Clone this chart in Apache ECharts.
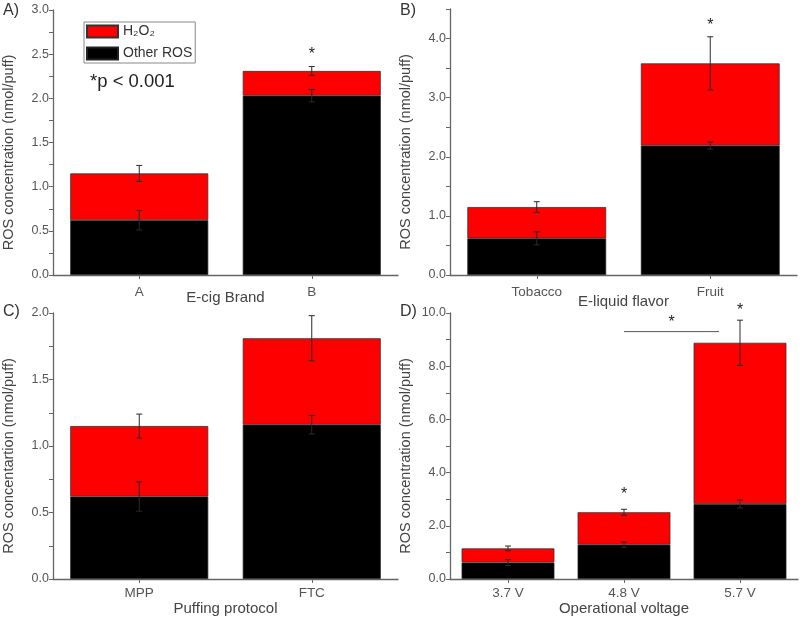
<!DOCTYPE html>
<html>
<head>
<meta charset="utf-8">
<script src="https://cdn.jsdelivr.net/npm/echarts@6/dist/echarts.min.js"></script>
<style>
html,body{margin:0;padding:0;background:#fff;}
#chart{width:800px;height:620px;}
</style>
</head>
<body>
<div id="chart"></div>
<script>
// ---- Data ----
const catsA = ['A', 'B'];
const otherA = [0.62, 2.03];
const h2o2A = [0.53, 0.28];
const errOtherA = [0.11, 0.07];
const errTotalA = [0.09, 0.05];

const catsB = ['Tobacco', 'Fruit'];
const otherB = [0.62, 2.19];
const h2o2B = [0.53, 1.39];
const errOtherB = [0.11, 0.06];
const errTotalB = [0.09, 0.45];

const catsC = ['MPP', 'FTC'];
const otherC = [0.62, 1.16];
const h2o2C = [0.53, 0.65];
const errOtherC = [0.11, 0.07];
const errTotalC = [0.09, 0.17];

const catsD = ['3.7 V', '4.8 V', '5.7 V'];
const otherD = [0.62, 1.29, 2.82];
const h2o2D = [0.53, 1.22, 6.06];
const errOtherD = [0.11, 0.10, 0.15];
const errTotalD = [0.09, 0.11, 0.85];

// significance asterisks: [category index, value]
const starsA = [[1, 2.49]];
const starsB = [[1, 4.22]];
const starsD = [[1, 3.16], [2, 10.1]];
// bracket line in D: [from category, to category (fractional), value], star above it
const sigLineD = [1, 1.82, 9.3];
const sigStarD = 9.65;

const yTicksA = {min: 0, max: 3.0, interval: 0.5};
const yTicksB = {min: 0, max: 4.5, interval: 1.0};
const yTicksC = {min: 0, max: 2.0, interval: 0.5};
const yTicksD = {min: 0, max: 10.0, interval: 2.0};

const NAME_H2O2 = 'H\u2082O\u2082';
const NAME_OTHER = 'Other ROS';

// ---- Helpers ----
const AXIS_COLOR = '#666';
const LABEL_COLOR = '#555';
const FONT = '"Liberation Sans", Arial, sans-serif';

function xAxisFor(idx, cats, name, nameGap, labelMargin) {
  return {
    type: 'category', gridIndex: idx, data: cats,
    name: name, nameLocation: 'middle', nameGap: nameGap, nameMoveOverlap: false,
    nameTextStyle: {color: '#444', fontSize: 15, fontFamily: FONT},
    axisLine: {show: true, lineStyle: {color: AXIS_COLOR, width: 1.3}},
    axisTick: {show: true, alignWithLabel: true, length: 4, lineStyle: {color: AXIS_COLOR}},
    axisLabel: {color: LABEL_COLOR, fontSize: 13.5, fontFamily: FONT, margin: labelMargin},
    splitLine: {show: false}
  };
}
function yAxisFor(idx, t, name, hideMax) {
  return {
    type: 'value', gridIndex: idx, min: t.min, max: t.max, interval: t.interval,
    name: name, nameLocation: 'middle', nameGap: 37, nameRotate: 90, nameMoveOverlap: false,
    nameTextStyle: {color: '#444', fontSize: 14.5, fontFamily: FONT, padding: [0, 20, 0, 0]},
    axisLine: {show: true, lineStyle: {color: AXIS_COLOR, width: 1.3}},
    axisTick: {show: true, length: 4, lineStyle: {color: AXIS_COLOR}},
    minorTick: {show: true, splitNumber: 2, length: 4, lineStyle: {color: AXIS_COLOR}},
    axisLabel: {color: LABEL_COLOR, fontSize: 12.5, fontFamily: FONT, margin: 4,
      showMaxLabel: !hideMax,
      formatter: v => v.toFixed(1)},
    splitLine: {show: false}
  };
}
function barSeries(idx, other, h2o2) {
  const common = {type: 'bar', xAxisIndex: idx, yAxisIndex: idx, stack: 's' + idx,
    barWidth: '80%', z: 2};
  return [
    Object.assign({}, common, {name: NAME_OTHER, data: other,
      itemStyle: {color: '#000', borderColor: '#222', borderWidth: 0.8}}),
    Object.assign({}, common, {name: NAME_H2O2, data: h2o2,
      itemStyle: {color: '#ff0000', borderColor: '#333', borderWidth: 0.8}})
  ];
}
function errorData(other, h2o2, errOther, errTotal) {
  const d = [];
  other.forEach((o, i) => {
    d.push([i, o - errOther[i], o + errOther[i]]);
    const tot = o + h2o2[i];
    d.push([i, tot - errTotal[i], tot + errTotal[i]]);
  });
  return d;
}
function errorSeries(idx, data) {
  return {
    type: 'custom', xAxisIndex: idx, yAxisIndex: idx, z: 5, silent: true,
    data: data, encode: {x: 0, y: [1, 2]},
    renderItem: function (params, api) {
      const lo = api.coord([api.value(0), api.value(1)]);
      const hi = api.coord([api.value(0), api.value(2)]);
      const cap = 3;
      const st = {stroke: '#2a2a2a', lineWidth: 1};
      return {type: 'group', children: [
        {type: 'line', shape: {x1: lo[0], y1: lo[1], x2: hi[0], y2: hi[1]}, style: st},
        {type: 'line', shape: {x1: hi[0] - cap, y1: hi[1], x2: hi[0] + cap, y2: hi[1]}, style: st},
        {type: 'line', shape: {x1: lo[0] - cap, y1: lo[1], x2: lo[0] + cap, y2: lo[1]}, style: st}
      ]};
    }
  };
}
function starSeries(idx, data) {
  return {
    type: 'custom', xAxisIndex: idx, yAxisIndex: idx, z: 6, silent: true, clip: false,
    data: data, encode: {x: 0, y: 1},
    renderItem: function (params, api) {
      const p = api.coord([api.value(0), api.value(1)]);
      return {type: 'text', style: {text: '*', x: p[0], y: p[1], textAlign: 'center',
        textVerticalAlign: 'middle', fill: '#222', font: '16px ' + FONT}};
    }
  };
}
function sigSeries(idx) {
  return {
    type: 'custom', xAxisIndex: idx, yAxisIndex: idx, z: 6, silent: true, clip: false,
    data: [[sigLineD[0], sigLineD[2], sigStarD]], encode: {x: 0, y: 1},
    renderItem: function (params, api) {
      const f = sigLineD[0], t = sigLineD[1];
      const a = api.coord([Math.floor(f), sigLineD[2]]);
      const b = api.coord([Math.floor(f) + 1, sigLineD[2]]);
      const x1 = a[0] + (b[0] - a[0]) * (f - Math.floor(f));
      const x2 = a[0] + (b[0] - a[0]) * (t - Math.floor(f));
      const sy = api.coord([Math.floor(f), sigStarD])[1];
      return {type: 'group', children: [
        {type: 'line', shape: {x1: x1, y1: a[1], x2: x2, y2: a[1]}, style: {stroke: '#555', lineWidth: 1}},
        {type: 'text', style: {text: '*', x: (x1 + x2) / 2, y: sy, textAlign: 'center',
          textVerticalAlign: 'middle', fill: '#222', font: '16px ' + FONT}}
      ]};
    }
  };
}

const yName = 'ROS concentration (nmol/puff)';
const yNameC = 'ROS concentartion (nmol/puff)';

const option = {
  backgroundColor: '#fff',
  animation: false,
  textStyle: {fontFamily: FONT},
  grid: [
    {left: 50, top: 10, width: 348, height: 265},
    {left: 450, top: 9, width: 347, height: 266},
    {left: 50, top: 313, width: 348, height: 266},
    {left: 450, top: 313, width: 348, height: 266}
  ],
  xAxis: [
    xAxisFor(0, catsA, 'E-cig Brand', 15, 10),
    xAxisFor(1, catsB, 'E-liquid flavor', 19, 10),
    xAxisFor(2, catsC, 'Puffing protocol', 22, 7),
    xAxisFor(3, catsD, 'Operational voltage', 22, 7)
  ],
  yAxis: [
    yAxisFor(0, yTicksA, yName, false),
    yAxisFor(1, yTicksB, yName, true),
    yAxisFor(2, yTicksC, yNameC, false),
    yAxisFor(3, yTicksD, yName, false)
  ],
  legend: {
    data: [NAME_H2O2, NAME_OTHER],
    orient: 'vertical', left: 84, top: 22,
    itemWidth: 31, itemHeight: 12, itemGap: 5,
    icon: 'rect',
    padding: [1, 3, 1, 2],
    borderColor: '#888', borderWidth: 1, borderRadius: 0,
    textStyle: {color: '#333', fontSize: 14, fontFamily: FONT, lineHeight: 17},
    selectedMode: false
  },
  graphic: [
    {type: 'text', left: 3, top: 3, style: {text: 'A)', font: '16px ' + FONT, fill: '#333'}},
    {type: 'text', left: 400, top: 3, style: {text: 'B)', font: '16px ' + FONT, fill: '#333'}},
    {type: 'text', left: 3, top: 304, style: {text: 'C)', font: '16px ' + FONT, fill: '#333'}},
    {type: 'text', left: 400, top: 304, style: {text: 'D)', font: '16px ' + FONT, fill: '#333'}},
    {type: 'text', left: 90, top: 72, style: {text: '*p < 0.001', font: '18.5px ' + FONT, fill: '#222'}}
  ],
  series: [].concat(
    barSeries(0, otherA, h2o2A),
    barSeries(1, otherB, h2o2B),
    barSeries(2, otherC, h2o2C),
    barSeries(3, otherD, h2o2D),
    [
      errorSeries(0, errorData(otherA, h2o2A, errOtherA, errTotalA)),
      errorSeries(1, errorData(otherB, h2o2B, errOtherB, errTotalB)),
      errorSeries(2, errorData(otherC, h2o2C, errOtherC, errTotalC)),
      errorSeries(3, errorData(otherD, h2o2D, errOtherD, errTotalD)),
      starSeries(0, starsA),
      starSeries(1, starsB),
      starSeries(3, starsD),
      sigSeries(3)
    ]
  )
};

const chart = echarts.init(document.getElementById('chart'), null, {renderer: 'canvas'});
chart.setOption(option);
</script>
</body>
</html>
